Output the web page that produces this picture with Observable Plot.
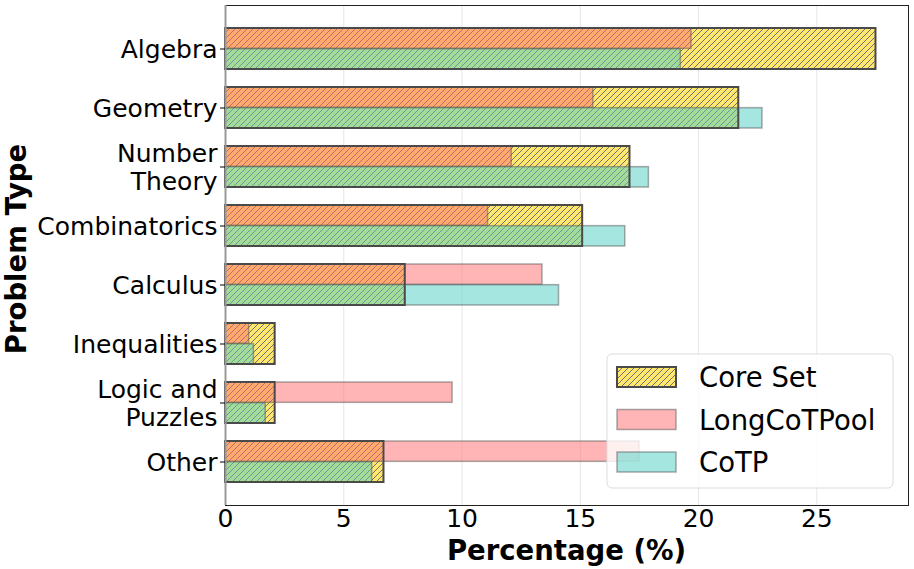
<!DOCTYPE html>
<html><head><meta charset="utf-8">
<script src="https://cdn.jsdelivr.net/npm/d3@7"></script>
<script src="https://cdn.jsdelivr.net/npm/@observablehq/plot@0.6"></script>
<style>body{margin:0;background:#fff;} svg{font-family:"DejaVu Sans";}</style>
</head><body><div id="chart"></div>
<script>
const categories = ["Algebra","Geometry","Number\nTheory","Combinatorics","Calculus","Inequalities","Logic and\nPuzzles","Other"];
const coreSet     = [27.5, 21.7, 17.1, 15.1, 7.6, 2.1, 2.1, 6.7];
const longCoTPool = [19.7, 15.55, 12.1, 11.1, 13.4, 1.0, 9.6, 17.5];
const cotp        = [19.25, 22.7, 17.9, 16.9, 14.1, 1.2, 1.7, 6.2];
const xTicks = [0, 5, 10, 15, 20, 25];
const seriesNames = ["Core Set", "LongCoTPool", "CoTP"];

const rows = categories.map((c, i) => ({cat: c, core: coreSet[i], lcp: longCoTPool[i], cotp: cotp[i]}));

const W = 914, H = 569, mL = 225, mR = 6, mT = 5, mB = 64;
const pIn = 0.3, pOut = 0.385;
const step = (H - mT - mB) / (categories.length - pIn + 2 * pOut);
const half = step * (1 - pIn) / 2;
const xMax = d3.max(coreSet.concat(longCoTPool, cotp)) * 1.05;

const chart = Plot.plot({
  width: W, height: H,
  marginLeft: mL, marginRight: mR, marginTop: mT, marginBottom: mB,
  style: {fontFamily: "DejaVu Sans", fontSize: "25px", color: "#000", background: "#fff"},
  x: {domain: [0, xMax]},
  y: {domain: categories, paddingInner: pIn, paddingOuter: pOut, align: 0.5},
  marks: [
    Plot.gridX(xTicks, {stroke: "#e6e6e6", strokeOpacity: 1, strokeWidth: 1}),
    Plot.barX(rows, {x: "core", y: "cat", fill: "#FFE66D"}),
    Plot.barX(rows, {x: "core", y: "cat", fill: "#000", className: "hatchbar"}),
    Plot.barX(rows, {x: "lcp", y: "cat", fill: "#FF6B6B", fillOpacity: 0.5, stroke: "#555", strokeOpacity: 0.5, strokeWidth: 1.5, insetBottom: half}),
    Plot.barX(rows, {x: "cotp", y: "cat", fill: "#4ECDC4", fillOpacity: 0.5, stroke: "#555", strokeOpacity: 0.5, strokeWidth: 1.5, insetTop: half}),
    Plot.barX(rows, {x: "core", y: "cat", fill: "none", stroke: "#4a4a4a", strokeWidth: 2}),
    Plot.frame({stroke: "#222", strokeWidth: 1}),
    Plot.ruleX([0], {stroke: "#999", strokeWidth: 2}),
    Plot.axisX(xTicks, {tickSize: 0, tickPadding: 4, fontSize: 25, label: null}),
    Plot.axisY({tickSize: 5, tickPadding: 3, fontSize: 25, label: null, lineHeight: 1.12, stroke: "#000"})
  ]
});

const svg = d3.select(chart);
const defs = svg.insert("defs", ":first-child");
const pat = defs.append("pattern").attr("id", "hatch").attr("patternUnits", "userSpaceOnUse")
  .attr("width", 6).attr("height", 6);
pat.append("path").attr("d", "M-1,1 l2,-2 M0,6 l6,-6 M5,7 l2,-2")
  .attr("stroke", "#707070").attr("stroke-width", 1).attr("fill", "none");
svg.selectAll("g.hatchbar").attr("fill", "url(#hatch)");

// axis titles
svg.append("text").attr("x", (mL + W - mR) / 2).attr("y", 560)
  .attr("text-anchor", "middle").attr("font-weight", "bold").attr("font-size", 27.5)
  .attr("fill", "#000").text("Percentage (%)");
svg.append("text").attr("transform", "translate(26,249) rotate(-90)")
  .attr("text-anchor", "middle").attr("font-weight", "bold").attr("font-size", 27.5)
  .attr("fill", "#000").text("Problem Type");

// legend
const lg = svg.append("g");
lg.append("rect").attr("x", 607).attr("y", 354).attr("width", 286).attr("height", 134).attr("rx", 5)
  .attr("fill", "#fff").attr("fill-opacity", 0.8).attr("stroke", "#dcdcdc");
const legendFills = ["#FFE66D", "#FF6B6B", "#4ECDC4"];
const legendY = [367, 409.5, 452];
seriesNames.forEach((name, i) => {
  const y = legendY[i];
  if (i === 0) {
    lg.append("rect").attr("x", 617).attr("y", y).attr("width", 59).attr("height", 20).attr("fill", legendFills[0]);
    lg.append("rect").attr("x", 617).attr("y", y).attr("width", 59).attr("height", 20).attr("fill", "url(#hatch)")
      .attr("stroke", "#4a4a4a").attr("stroke-width", 2);
  } else {
    lg.append("rect").attr("x", 617).attr("y", y).attr("width", 59).attr("height", 20)
      .attr("fill", legendFills[i]).attr("fill-opacity", 0.5)
      .attr("stroke", "#555").attr("stroke-opacity", 0.5).attr("stroke-width", 1.5);
  }
  lg.append("text").attr("x", 699).attr("y", y + 20).attr("text-anchor", "start")
    .attr("font-size", 27.5).attr("fill", "#000").text(name);
});

document.getElementById("chart").appendChild(chart);
</script>
</body></html>
